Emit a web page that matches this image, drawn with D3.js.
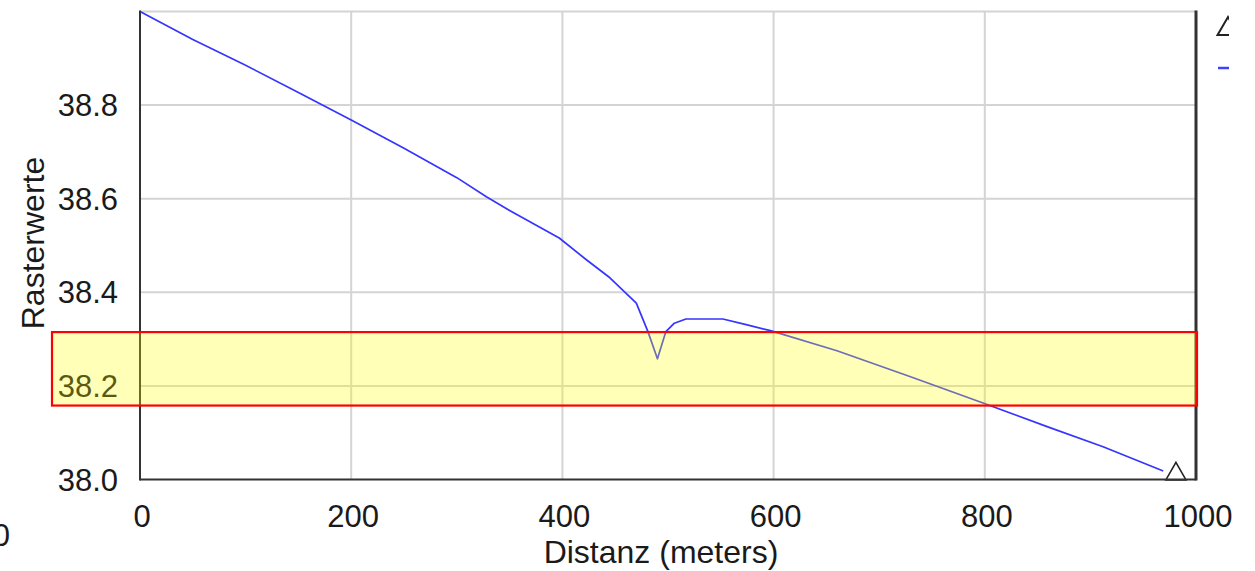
<!DOCTYPE html>
<html>
<head>
<meta charset="utf-8">
<script src="https://cdn.jsdelivr.net/npm/d3@7"></script>
<style>
  html, body { margin: 0; padding: 0; background: #fff; }
  svg { display: block; }
  text { font-family: "Liberation Sans", Arial, sans-serif; fill: #1a1a1a; }
</style>
</head>
<body>
<svg id="chart" width="1255" height="571"></svg>
<script>
// ---- data ----
const distances = [0, 50, 100, 150, 200, 250, 300, 328, 350, 397, 423, 445, 470, 481, 490, 498, 506, 517, 552, 574, 597, 660, 729, 799, 859, 912, 969];
const values    = [39.0, 38.94, 38.885, 38.827, 38.768, 38.708, 38.645, 38.604, 38.575, 38.516, 38.469, 38.431, 38.377, 38.316, 38.258, 38.316, 38.334, 38.343, 38.343, 38.331, 38.318, 38.275, 38.220, 38.163, 38.113, 38.070, 38.018];
const markerDist = [981];
const markerVal  = [38.018];
const xTicks = [0, 200, 400, 600, 800, 1000];
const yTicks = [38.0, 38.2, 38.4, 38.6, 38.8];
const yGrid  = [38.2, 38.4, 38.6, 38.8, 39.0];
const highlightBand = [38.158, 38.315];
const xTitle = "Distanz (meters)";
const yTitle = "Rasterwerte";

(function () {
// ---- layout ----
const svg = d3.select("#chart");
const pL = 140, pR = 1196, pT = 11.5, pB = 479.5;
const x = d3.scaleLinear().domain([0, 1000]).range([pL, pR]);
const y = d3.scaleLinear().domain([38, 39]).range([pB, pT]);

svg.append("rect").attr("width", 1255).attr("height", 571).attr("fill", "#fff");

// gridlines
const grid = svg.append("g").attr("stroke", "#d4d4d4").attr("stroke-width", 2);
grid.selectAll("line.v").data(xTicks.slice(1, -1)).join("line").attr("class", "v")
  .attr("x1", d => x(d)).attr("x2", d => x(d)).attr("y1", pT).attr("y2", pB);
grid.selectAll("line.h").data(yGrid).join("line").attr("class", "h")
  .attr("x1", pL).attr("x2", pR).attr("y1", d => y(d)).attr("y2", d => y(d));

// data line
const line = d3.line().x((d, i) => x(distances[i])).y(d => y(d));
svg.append("path").datum(values)
  .attr("d", line).attr("fill", "none")
  .attr("stroke", "#3535ff").attr("stroke-width", 1.7)
  .attr("stroke-linejoin", "round");

// marker (triangle)
const tri = d3.symbol().type(d3.symbolTriangle).size(175);
svg.selectAll("path.marker").data(markerDist).join("path")
  .attr("class", "marker")
  .attr("d", tri)
  .attr("transform", (d, i) => `translate(${x(d)},${y(markerVal[i]) + 3})`)
  .attr("fill", "#fff").attr("stroke", "#222").attr("stroke-width", 1.6);

// axes frame
svg.append("line").attr("x1", pL).attr("x2", pL).attr("y1", pT - 1).attr("y2", pB + 1)
  .attr("stroke", "#333").attr("stroke-width", 2);
svg.append("line").attr("x1", pL).attr("x2", pR).attr("y1", pB).attr("y2", pB)
  .attr("stroke", "#333").attr("stroke-width", 2);
svg.append("line").attr("x1", pR).attr("x2", pR).attr("y1", pT - 1).attr("y2", pB + 1)
  .attr("stroke", "#333").attr("stroke-width", 3);

// tick labels
svg.selectAll("text.ytick").data(yTicks).join("text")
  .attr("class", "ytick")
  .attr("x", 118).attr("y", d => y(d) + 11)
  .attr("text-anchor", "end").attr("font-size", 31)
  .text(d => d3.format(".1f")(d));
svg.selectAll("text.xtick").data(xTicks).join("text")
  .attr("class", "xtick")
  .attr("x", d => x(d) + 2).attr("y", 527)
  .attr("text-anchor", "middle").attr("font-size", 31)
  .text(d => d);

// label fragment at left edge (cut off in the reference as well)
svg.append("text").attr("x", 10).attr("y", 546).attr("text-anchor", "end")
  .attr("font-size", 31).text("0");

// axis titles
svg.append("text").attr("x", 661).attr("y", 563).attr("text-anchor", "middle")
  .attr("font-size", 32).text(xTitle);
svg.append("text").attr("transform", "translate(44,243) rotate(-90)")
  .attr("text-anchor", "middle").attr("font-size", 32).text(yTitle);

// legend (clipped)
const defs = svg.append("defs");
defs.append("clipPath").attr("id", "legclip").append("rect")
  .attr("x", 1205).attr("y", 0).attr("width", 24).attr("height", 120);
const leg = svg.append("g").attr("clip-path", "url(#legclip)");
leg.append("path").attr("d", d3.symbol().type(d3.symbolTriangle).size(190))
  .attr("transform", "translate(1228,29)")
  .attr("fill", "none").attr("stroke", "#222").attr("stroke-width", 2);
leg.append("line").attr("x1", 1218).attr("x2", 1250).attr("y1", 68).attr("y2", 68)
  .attr("stroke", "#4040ff").attr("stroke-width", 2.5);

// highlight band overlay
svg.append("rect")
  .attr("x", 52).attr("width", pR + 1 - 52)
  .attr("y", y(highlightBand[1])).attr("height", y(highlightBand[0]) - y(highlightBand[1]))
  .attr("fill", "rgba(255,255,0,0.28)")
  .attr("stroke", "#ff0000").attr("stroke-width", 2.2);
})();
</script>
</body>
</html>
